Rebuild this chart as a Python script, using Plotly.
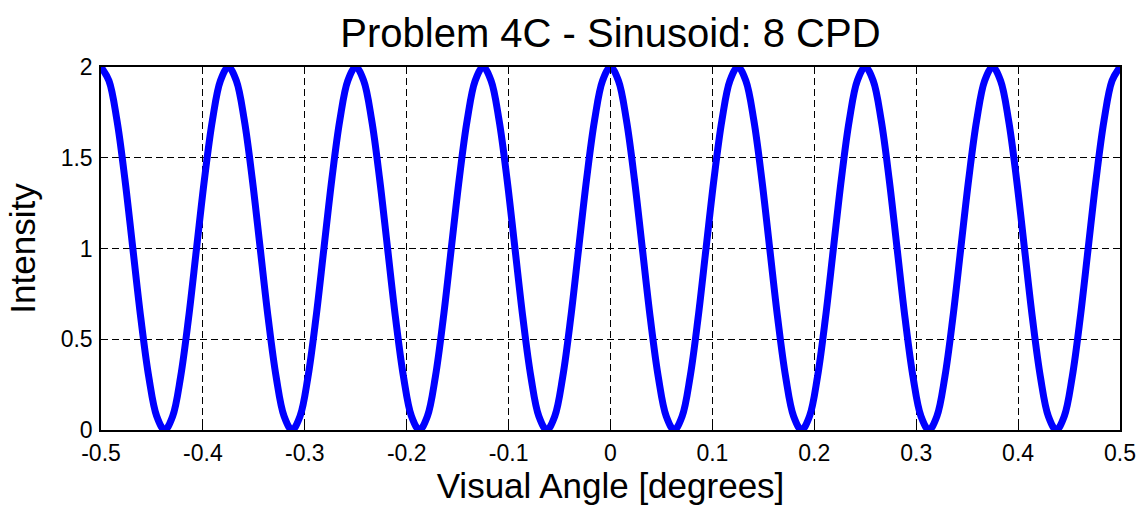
import plotly.graph_objects as go

# Visual angle samples [degrees]
visual_angle = [
    -0.5, -0.4921875, -0.484375, -0.4765625, -0.46875, -0.4609375, -0.453125, -0.4453125,
    -0.4375, -0.4296875, -0.421875, -0.4140625, -0.40625, -0.3984375, -0.390625, -0.3828125,
    -0.375, -0.3671875, -0.359375, -0.3515625, -0.34375, -0.3359375, -0.328125, -0.3203125,
    -0.3125, -0.3046875, -0.296875, -0.2890625, -0.28125, -0.2734375, -0.265625, -0.2578125,
    -0.25, -0.2421875, -0.234375, -0.2265625, -0.21875, -0.2109375, -0.203125, -0.1953125,
    -0.1875, -0.1796875, -0.171875, -0.1640625, -0.15625, -0.1484375, -0.140625, -0.1328125,
    -0.125, -0.1171875, -0.109375, -0.1015625, -0.09375, -0.0859375, -0.078125, -0.0703125,
    -0.0625, -0.0546875, -0.046875, -0.0390625, -0.03125, -0.0234375, -0.015625, -0.0078125,
    0.0, 0.0078125, 0.015625, 0.0234375, 0.03125, 0.0390625, 0.046875, 0.0546875,
    0.0625, 0.0703125, 0.078125, 0.0859375, 0.09375, 0.1015625, 0.109375, 0.1171875,
    0.125, 0.1328125, 0.140625, 0.1484375, 0.15625, 0.1640625, 0.171875, 0.1796875,
    0.1875, 0.1953125, 0.203125, 0.2109375, 0.21875, 0.2265625, 0.234375, 0.2421875,
    0.25, 0.2578125, 0.265625, 0.2734375, 0.28125, 0.2890625, 0.296875, 0.3046875,
    0.3125, 0.3203125, 0.328125, 0.3359375, 0.34375, 0.3515625, 0.359375, 0.3671875,
    0.375, 0.3828125, 0.390625, 0.3984375, 0.40625, 0.4140625, 0.421875, 0.4296875,
    0.4375, 0.4453125, 0.453125, 0.4609375, 0.46875, 0.4765625, 0.484375, 0.4921875,
    0.5,
]

# Intensity
intensity = [
    2.0, 1.924, 1.707, 1.383, 1.0, 0.617, 0.293, 0.076, 0.0, 0.076, 0.293, 0.617, 1.0, 1.383, 1.707, 1.924,
    2.0, 1.924, 1.707, 1.383, 1.0, 0.617, 0.293, 0.076, 0.0, 0.076, 0.293, 0.617, 1.0, 1.383, 1.707, 1.924,
    2.0, 1.924, 1.707, 1.383, 1.0, 0.617, 0.293, 0.076, 0.0, 0.076, 0.293, 0.617, 1.0, 1.383, 1.707, 1.924,
    2.0, 1.924, 1.707, 1.383, 1.0, 0.617, 0.293, 0.076, 0.0, 0.076, 0.293, 0.617, 1.0, 1.383, 1.707, 1.924,
    2.0, 1.924, 1.707, 1.383, 1.0, 0.617, 0.293, 0.076, 0.0, 0.076, 0.293, 0.617, 1.0, 1.383, 1.707, 1.924,
    2.0, 1.924, 1.707, 1.383, 1.0, 0.617, 0.293, 0.076, 0.0, 0.076, 0.293, 0.617, 1.0, 1.383, 1.707, 1.924,
    2.0, 1.924, 1.707, 1.383, 1.0, 0.617, 0.293, 0.076, 0.0, 0.076, 0.293, 0.617, 1.0, 1.383, 1.707, 1.924,
    2.0, 1.924, 1.707, 1.383, 1.0, 0.617, 0.293, 0.076, 0.0, 0.076, 0.293, 0.617, 1.0, 1.383, 1.707, 1.924,
    2.0,
]

x_ticks = [-0.5, -0.4, -0.3, -0.2, -0.1, 0, 0.1, 0.2, 0.3, 0.4, 0.5]
x_tick_labels = ["-0.5", "-0.4", "-0.3", "-0.2", "-0.1", "0", "0.1", "0.2", "0.3", "0.4", "0.5"]
y_ticks = [0, 0.5, 1, 1.5, 2]
y_tick_labels = ["0", "0.5", "1", "1.5", "2"]

FONT = "Liberation Sans, Arial, sans-serif"

fig = go.Figure()
fig.add_trace(go.Scatter(
    x=visual_angle, y=intensity, mode="lines",
    line=dict(color="#0000ff", width=7, shape="spline", smoothing=1.0),
    showlegend=False,
))

axis_common = dict(
    showline=True, linecolor="black", linewidth=1.5, mirror="ticks",
    ticks="inside", ticklen=5, tickcolor="black", tickwidth=1,
    showgrid=True, gridcolor="black", gridwidth=1, griddash="7px,4px",
    zeroline=False, automargin=False,
    tickfont=dict(family=FONT, size=23, color="black"),
)

fig.update_xaxes(
    range=[-0.5, 0.5], tickvals=x_ticks, ticktext=x_tick_labels,
    ticklabelstandoff=2,
    title=dict(text="Visual Angle [degrees]", font=dict(family=FONT, size=35, color="black"), standoff=6),
    **axis_common,
)
fig.update_yaxes(
    range=[0, 2], tickvals=y_ticks, ticktext=y_tick_labels,
    ticklabelstandoff=2,
    title=dict(text="Intensity", font=dict(family=FONT, size=35, color="black"), standoff=14),
    **axis_common,
)

fig.update_layout(
    width=1141, height=508,
    margin=dict(l=101, r=21, t=67, b=78),
    paper_bgcolor="white", plot_bgcolor="white",
    title=dict(text="Problem 4C - Sinusoid: 8 CPD", x=0.535, xanchor="center",
               y=0.935, yanchor="middle",
               font=dict(family=FONT, size=40, color="black")),
)

fig.write_html("out.html")
